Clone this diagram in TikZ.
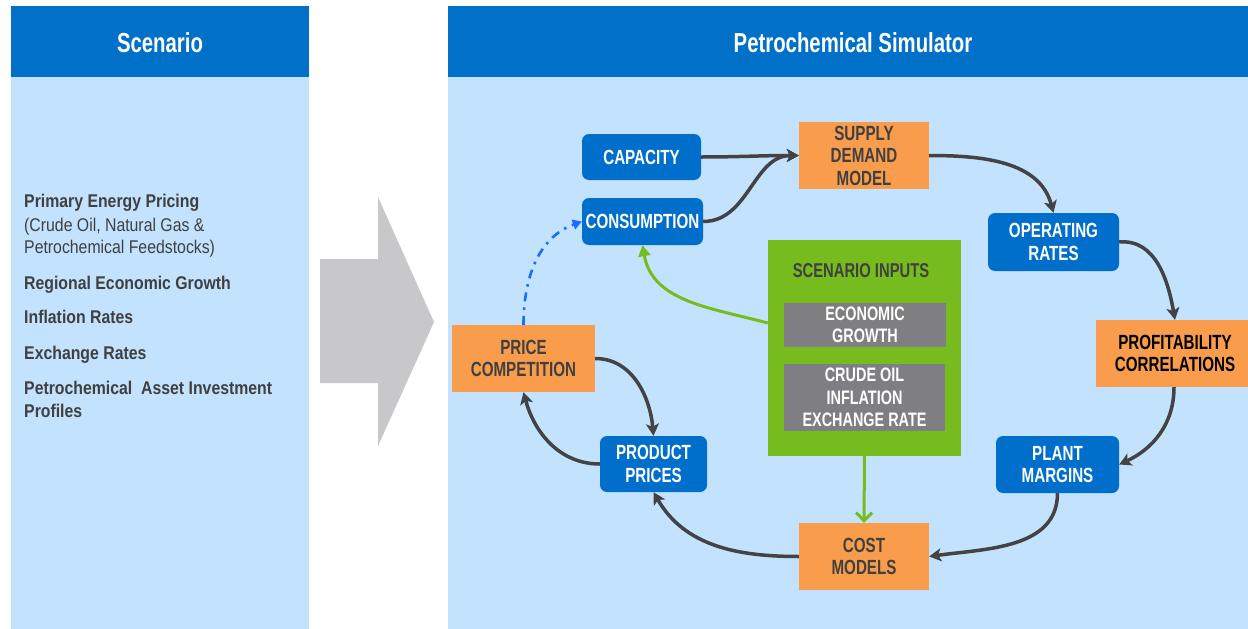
\documentclass[tikz,border=0pt]{standalone}
\usepackage{fontspec}
\setmainfont{Liberation Sans}
\newfontfamily\boxfont{Liberation Sans}[FakeStretch=0.74]
\newfontfamily\sidefont{Liberation Sans}[FakeStretch=0.86]
\usetikzlibrary{arrows.meta}

\definecolor{hdrblue}{HTML}{0070C9}
\definecolor{panelblue}{HTML}{C2E2FE}
\definecolor{nodeblue}{HTML}{006FCC}
\definecolor{boxorange}{HTML}{F99D4C}
\definecolor{inputgreen}{HTML}{77BC1F}
\definecolor{inputgray}{HTML}{7F7F83}
\definecolor{bigarrowgray}{HTML}{C8C8CA}
\definecolor{darktext}{HTML}{404040}
\definecolor{flowgray}{HTML}{434343}
\definecolor{feedbackblue}{HTML}{1A6EFF}

\begin{document}
\begin{tikzpicture}[x=1pt,y=-1pt,
  boxtext/.style={font=\boxfont\bfseries\fontsize{20.5}{22.5}\selectfont, align=center, inner sep=0pt},
  bluebox/.style={boxtext, fill=nodeblue, rounded corners=7pt, text=white},
  orangebox/.style={boxtext, fill=boxorange, text=darktext},
  graybox/.style={boxtext, fill=inputgray, text=white, font=\boxfont\bfseries\fontsize{19.5}{22.5}\selectfont},
  greenbox/.style={fill=inputgreen, inner sep=0pt},
  hdrtext/.style={font=\boxfont\bfseries\fontsize{27.5}{30}\selectfont, text=white, inner sep=0pt},
  sidebold/.style={font=\sidefont\bfseries\fontsize{18.4}{22}\selectfont, text=darktext, anchor=base west, inner sep=0pt},
  sideplain/.style={font=\sidefont\fontsize{18.4}{22}\selectfont, text=darktext, anchor=base west, inner sep=0pt},
  flow/.style={draw=flowgray, line width=3.5pt, -{Stealth[length=12pt,width=13pt,inset=3pt]}},
  feedback/.style={draw=feedbackblue, line width=2.6pt, dash pattern=on 9pt off 6pt on 2.5pt off 6pt,
    -{Triangle[length=9pt,width=10pt]}},
  inputflow/.style={draw=inputgreen, line width=3pt, -{Triangle[length=11pt,width=12pt]}},
  inputdrop/.style={draw=inputgreen, line width=3pt, -{Straight Barb[length=8pt,width=16pt,line width=3pt]}}
]
\useasboundingbox (0,0) rectangle (1248,629);
\fill[white] (0,0) rectangle (1248,629);

% panels and headers
\fill[panelblue] (11,77) rectangle (309,629);
\fill[hdrblue] (11,6) rectangle (309,77);
\fill[panelblue] (448,77) rectangle (1248,629);
\fill[hdrblue] (448,6) rectangle (1248,77);
\node[hdrtext] (scenhdr) at (160,43) {Scenario};
\node[hdrtext] (simhdr) at (853,43) {Petrochemical Simulator};

% block arrow between the panels
\fill[bigarrowgray] (320,259) -- (378,259) -- (378,197) -- (434,322) -- (378,446) -- (378,383) -- (320,383) -- cycle;

% scenario list
\node[sidebold] (l1) at (24,207.5) {Primary Energy Pricing};
\node[sideplain] (l2) at (24,231) {(Crude Oil, Natural Gas \&};
\node[sideplain] (l3) at (24,253.5) {Petrochemical Feedstocks)};
\node[sidebold] (l4) at (24,289.5) {Regional Economic Growth};
\node[sidebold] (l5) at (24,323.5) {Inflation Rates};
\node[sidebold] (l6) at (24,359.5) {Exchange Rates};
\node[sidebold] (l7) at (24,394.5) {Petrochemical\ \ Asset Investment};
\node[sidebold] (l8) at (24,417.5) {Profiles};

% scenario inputs block
\node[greenbox, minimum width=193pt, minimum height=216pt] (inputs) at (864.5,348) {};
\node[boxtext, text=darktext, font=\boxfont\bfseries\fontsize{20}{22}\selectfont] (inputstitle) at (861,271) {SCENARIO INPUTS};
\node[graybox, minimum width=162pt, minimum height=44pt] (econ) at (865,325) {ECONOMIC\\GROWTH};
\node[graybox, minimum width=161pt, minimum height=67pt] (crude) at (864.5,397.5) {CRUDE OIL\\INFLATION\\EXCHANGE RATE};

% simulator boxes
\node[bluebox, minimum width=119pt, minimum height=46pt] (cap) at (641.5,157) {CAPACITY};
\node[bluebox, minimum width=121pt, minimum height=47pt] (cons) at (642.5,221.5) {CONSUMPTION};
\node[orangebox, minimum width=130pt, minimum height=67pt] (sdm) at (864,155.5) {SUPPLY\\DEMAND\\MODEL};
\node[bluebox, minimum width=131pt, minimum height=58pt] (oper) at (1053.5,242) {OPERATING\\RATES};
\node[orangebox, text=black, minimum width=152pt, minimum height=67pt] (prof) at (1172,353.5) {\hspace*{6pt}PROFITABILITY\\\hspace*{6pt}CORRELATIONS};
\node[bluebox, minimum width=123pt, minimum height=57pt] (plant) at (1057.5,464.5) {PLANT\\MARGINS};
\node[orangebox, minimum width=143pt, minimum height=67pt] (price) at (523.5,358.5) {PRICE\\COMPETITION};
\node[bluebox, minimum width=107pt, minimum height=56pt] (prod) at (653.5,464) {PRODUCT\\PRICES};
\node[orangebox, minimum width=130pt, minimum height=67pt] (cost) at (864,556.5) {COST\\MODELS};

% main loop
\draw[flow] (cap.east) to[out=0,in=180] (sdm.west);
\draw[flow] (cons.east) to[out=0,in=180] (sdm.west);
\draw[flow] (sdm.east) to[out=0,in=105] (oper.north);
\draw[flow] (oper.east) to[out=5,in=100] ([xshift=3pt]prof.north);
\draw[flow] ([xshift=2pt]prof.south) to[out=-90,in=25] (plant.east);
\draw[flow] (plant.south) to[out=-90,in=8] (cost.east);
\draw[flow] (cost.west) to[out=180,in=-60] (prod.south);
\draw[flow] (prod.west) to[out=180,in=-75] (price.south);
\draw[flow] (price.east) to[out=0,in=95] (prod.north);

% feedback and input links
\draw[feedback] (price.north) to[out=90,in=200] (cons.west);
\draw[inputflow] ([yshift=25pt]inputs.west) to[out=165,in=-80] (cons.south);
\draw[inputdrop] (inputs.south) -- (cost.north);
\end{tikzpicture}
\end{document}
